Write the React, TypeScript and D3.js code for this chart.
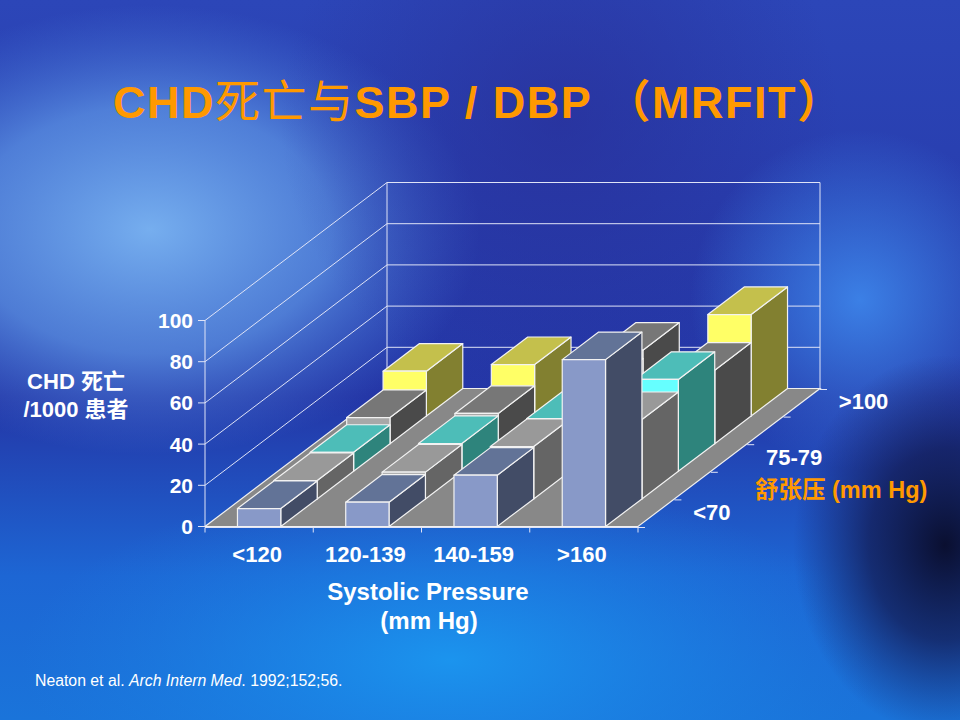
import React from 'react';
import * as d3 from 'd3';

// systolic categories (x), diastolic rows (depth, front to back)
const sbpCats = ['<120', '120-139', '140-159', '>160'];
const dbpRows = ['<70', '70-74', '75-79', '80-89', '>100'];

// CHD deaths per 1000, one array per diastolic row
const dbpLt70 = [8.7, 11.8, 24.9, 81];
const dbp7074 = [8.9, 13, 25.4, 38.5];
const dbp7579 = [9.2, 13.5, 25.6, 44.6];
const dbp8089 = [12.7, 14.7, 28, 35.7];
const dbpGt100 = [21.8, 25, 32, 49.3];
const seriesValues = [dbpLt70, dbp7074, dbp7579, dbp8089, dbpGt100];

const yTicks = [0, 20, 40, 60, 80, 100];

// front / top / side shades per row
const palettes = [
  { front: '#8899c8', top: '#627397', side: '#424c66' },
  { front: '#b0b0b0', top: '#999999', side: '#656565' },
  { front: '#66ffff', top: '#4dbdb8', side: '#2e847c' },
  { front: '#a8a8a8', top: '#777777', side: '#4a4a4a' },
  { front: '#ffff66', top: '#c4c04c', side: '#828030' },
];
// the 140-159 / >100 bar is painted in the dark grey shade in the original
const paletteOverride: Record<string, number> = { '2-4': 3 };

const W = 960;
const H = 720;
const x0 = 205;
const x1 = 638;
const yBase = 526.5;
const depthDx = 182;
const depthDy = -138;

const font = '"Liberation Sans", Arial, "Noto Sans CJK SC", sans-serif';
const cjk = '"Noto Sans CJK SC", sans-serif';

export default function App() {
  const x = d3.scaleBand<string>().domain(sbpCats).range([x0, x1]).paddingInner(0.6).paddingOuter(0.3);
  const step = (x1 - x0) / sbpCats.length;
  const z = d3.scaleBand<string>().domain(dbpRows).range([0, 1]).padding(0);
  const y = d3.scaleLinear().domain([0, 100]).range([0, 206]);

  const p = (px: number, pz: number, v: number): [number, number] => [
    px + pz * depthDx,
    yBase + pz * depthDy - y(v),
  ];
  const poly = (pts: [number, number][]) => pts.map((q) => q.join(',')).join(' ');

  const floor = poly([p(x0, 0, 0), p(x1, 0, 0), p(x1, 1, 0), p(x0, 1, 0)]);

  const bars: React.ReactNode[] = [];
  for (let r = dbpRows.length - 1; r >= 0; r--) {
    sbpCats.forEach((cat, c) => {
      const v = seriesValues[r][c];
      const bx0 = x(cat)!;
      const bx1 = bx0 + x.bandwidth();
      const z0 = z(dbpRows[r])!;
      const z1 = z0 + z.bandwidth();
      const pal = palettes[paletteOverride[`${c}-${r}`] ?? r];
      const front = poly([p(bx0, z0, 0), p(bx1, z0, 0), p(bx1, z0, v), p(bx0, z0, v)]);
      const top = poly([p(bx0, z0, v), p(bx1, z0, v), p(bx1, z1, v), p(bx0, z1, v)]);
      const side = poly([p(bx1, z0, 0), p(bx1, z1, 0), p(bx1, z1, v), p(bx1, z0, v)]);
      bars.push(
        <g key={`${r}-${c}`} stroke="#f2f2f2" strokeWidth={1.2} strokeLinejoin="round">
          <polygon points={side} fill={pal.side} />
          <polygon points={top} fill={pal.top} />
          <polygon points={front} fill={pal.front} />
        </g>
      );
    });
  }

  const wallColor = '#dfe3f7';

  return (
    <svg width={W} height={H} style={{ position: 'absolute', left: 0, top: 0 }} fontFamily={font}>
      <defs>
        <linearGradient id="bg" x1="0" y1="0" x2="0" y2="1">
          <stop offset="0" stopColor="#2c46b8" />
          <stop offset="0.55" stopColor="#2436a6" />
          <stop offset="0.8" stopColor="#1d66d4" />
          <stop offset="1" stopColor="#1a74da" />
        </linearGradient>
        <radialGradient id="glowL" cx="150" cy="230" r="300" gradientUnits="userSpaceOnUse"
          gradientTransform="translate(150 230) scale(1.1 0.75) translate(-150 -230)">
          <stop offset="0" stopColor="#7ab4f2" stopOpacity="0.95" />
          <stop offset="0.55" stopColor="#64a0ec" stopOpacity="0.65" />
          <stop offset="1" stopColor="#4a80e0" stopOpacity="0" />
        </radialGradient>
        <radialGradient id="glowB" cx="450" cy="660" r="430" gradientUnits="userSpaceOnUse"
          gradientTransform="translate(450 660) scale(1 0.42) translate(-450 -660)">
          <stop offset="0" stopColor="#1b94ee" stopOpacity="1" />
          <stop offset="1" stopColor="#1b80e4" stopOpacity="0" />
        </radialGradient>
        <radialGradient id="glowR" cx="860" cy="300" r="170" gradientUnits="userSpaceOnUse">
          <stop offset="0" stopColor="#3f8cf0" stopOpacity="0.85" />
          <stop offset="1" stopColor="#3f8cf0" stopOpacity="0" />
        </radialGradient>
        <radialGradient id="darkR" cx="945" cy="545" r="190" gradientUnits="userSpaceOnUse"
          gradientTransform="translate(945 545) scale(0.8 1) translate(-945 -545)">
          <stop offset="0" stopColor="#0a0f30" stopOpacity="1" />
          <stop offset="0.5" stopColor="#121a52" stopOpacity="0.75" />
          <stop offset="1" stopColor="#18206a" stopOpacity="0" />
        </radialGradient>
        <radialGradient id="darkT" cx="560" cy="120" r="280" gradientUnits="userSpaceOnUse">
          <stop offset="0" stopColor="#282c94" stopOpacity="0.6" />
          <stop offset="1" stopColor="#282c94" stopOpacity="0" />
        </radialGradient>
      </defs>

      <rect width={W} height={H} fill="url(#bg)" />
      <rect width={W} height={H} fill="url(#glowL)" />
      <rect width={W} height={H} fill="url(#glowB)" />
      <rect width={W} height={H} fill="url(#darkT)" />
      <rect width={W} height={H} fill="url(#glowR)" />
      <rect width={W} height={H} fill="url(#darkR)" />

      {/* title */}
      <text x={113} y={118} fontSize={45} fontWeight="bold" fill="#ff9900" letterSpacing={1.5}>
        <tspan>CHD</tspan>
        <tspan fontWeight="normal" fontFamily={cjk}>死亡与</tspan>
        <tspan>SBP / DBP </tspan>
        <tspan fontFamily={cjk}>（</tspan>
        <tspan>MRFIT</tspan>
        <tspan fontFamily={cjk}>）</tspan>
      </text>

      {/* walls */}
      <g stroke={wallColor} strokeWidth={1} fill="none">
        {yTicks.filter((t) => t > 0).map((t) => {
          const a = p(x0, 0, t);
          const b = p(x0, 1, t);
          const c = p(x1, 1, t);
          return <polyline key={t} points={poly([a, b, c])} />;
        })}
        <line x1={p(x0, 1, 0)[0]} y1={p(x0, 1, 0)[1]} x2={p(x0, 1, 100)[0]} y2={p(x0, 1, 100)[1]} />
        <line x1={p(x1, 1, 0)[0]} y1={p(x1, 1, 0)[1]} x2={p(x1, 1, 100)[0]} y2={p(x1, 1, 100)[1]} />
        <line x1={x0} y1={yBase} x2={x0} y2={yBase - y(100)} />
      </g>

      {/* floor */}
      <polygon points={floor} fill="#888888" stroke="#f0f0f0" strokeWidth={1.2} />

      {/* value axis */}
      <g fill="#ffffff" fontSize={21} fontWeight="bold" textAnchor="end">
        {yTicks.map((t) => (
          <g key={t}>
            <line x1={x0 - 7} x2={x0} y1={yBase - y(t)} y2={yBase - y(t)} stroke={wallColor} />
            <text x={x0 - 12} y={yBase - y(t) + 7.5}>{t}</text>
          </g>
        ))}
      </g>

      {/* category axis */}
      <g stroke={wallColor}>
        <line x1={x0} x2={x1} y1={yBase + 1} y2={yBase + 1} />
        {d3.range(sbpCats.length + 1).map((i) => (
          <line key={i} x1={x0 + i * step} x2={x0 + i * step} y1={yBase + 1} y2={yBase + 6} />
        ))}
        {d3.range(dbpRows.length + 1).map((i) => {
          const q = p(x1, i / dbpRows.length, 0);
          return <line key={'d' + i} x1={q[0]} x2={q[0] + 7} y1={q[1] + 1} y2={q[1] + 1} />;
        })}
      </g>

      {bars}

      <g fill="#ffffff" fontSize={22} fontWeight="bold" textAnchor="middle">
        {sbpCats.map((cat) => (
          <text key={cat} x={x(cat)! + x.bandwidth() / 2 - 2} y={562}>{cat}</text>
        ))}
      </g>
      <g fill="#ffffff" fontSize={24} fontWeight="bold" textAnchor="middle">
        <text x={428} y={600}>Systolic Pressure</text>
        <text x={429} y={629}>(mm Hg)</text>
      </g>

      {/* depth axis labels, every other row as in the original */}
      <g fill="#ffffff" fontSize={22} fontWeight="bold">
        {dbpRows.map((row, i) => {
          if (i % 2 !== 0) return null;
          const q = p(x1, z(row)! + z.bandwidth() / 2, 0);
          return (
            <text key={row} x={q[0] + 37} y={q[1] + 7}>{row}</text>
          );
        })}
      </g>
      <text x={755} y={498} fontSize={23.5} fontWeight="bold" fill="#ff9900">舒张压 (mm Hg)</text>

      <g fill="#ffffff" fontSize={22} fontWeight="bold" textAnchor="middle">
        <text x={76} y={389}>CHD 死亡</text>
        <text x={76} y={417}>/1000 患者</text>
      </g>

      <text x={35} y={686} fontSize={15.8} fill="#ffffff">
        Neaton et al. <tspan fontStyle="italic">Arch Intern Med</tspan>. 1992;152;56.
      </text>
    </svg>
  );
}
